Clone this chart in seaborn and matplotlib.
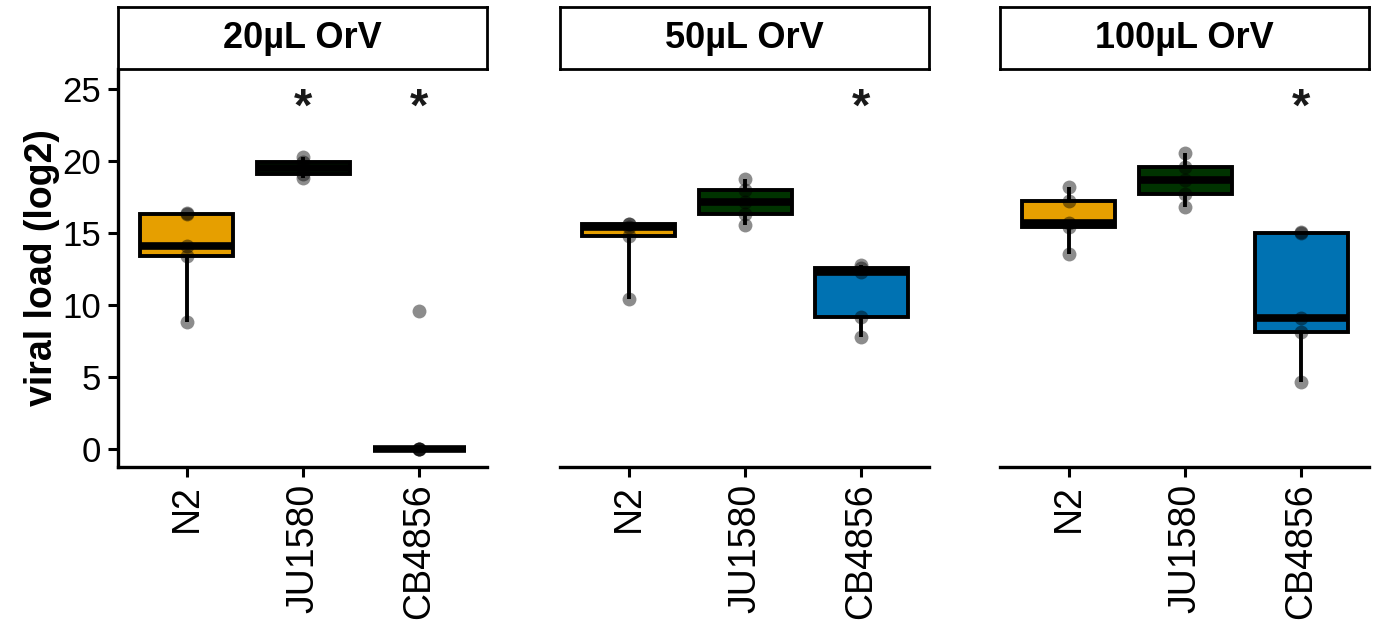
import numpy as np
import pandas as pd
import matplotlib
matplotlib.use("Agg")
import matplotlib.pyplot as plt
import seaborn as sns

# valeurs (log2)
strains = ["N2", "JU1580", "CB4856"]
doses = ["20µL OrV", "50µL OrV", "100µL OrV"]

n2_20 = [8.85, 13.43, 14.12, 16.32, 16.37]
ju_20 = [18.8, 19.07, 19.5, 19.94, 20.25]
cb_20 = [0.0, 0.0, 0.0, 0.0, 9.61]

n2_50 = [10.4, 14.8, 15.4, 15.6, 15.62]
ju_50 = [15.55, 16.3, 17.13, 17.98, 18.72]
cb_50 = [7.81, 9.15, 12.3, 12.55, 12.78]

n2_100 = [13.52, 15.44, 15.67, 17.24, 18.2]
ju_100 = [16.82, 17.7, 18.67, 19.6, 20.53]
cb_100 = [4.64, 8.1, 9.08, 15.0, 15.05]

# étoiles de significativité (dose -> souches)
stars = {"20µL OrV": ["JU1580", "CB4856"],
         "50µL OrV": ["CB4856"],
         "100µL OrV": ["CB4856"]}
star_y = 23.6

colors = {"N2": "#E69F00", "JU1580": "#003300", "CB4856": "#0072B2"}

values = {
    "20µL OrV": [n2_20, ju_20, cb_20],
    "50µL OrV": [n2_50, ju_50, cb_50],
    "100µL OrV": [n2_100, ju_100, cb_100],
}

rows = []
for dose in doses:
    for strain, vals in zip(strains, values[dose]):
        for v in vals:
            rows.append({"dose": dose, "strain": strain, "load": v})
df = pd.DataFrame(rows)

sns.set_style("white")
plt.rcParams["font.family"] = ["Liberation Sans", "DejaVu Sans"]
plt.rcParams["text.color"] = "black"
plt.rcParams["axes.labelcolor"] = "black"
plt.rcParams["xtick.color"] = "black"
plt.rcParams["ytick.color"] = "black"

fig = plt.figure(figsize=(13.82, 6.27), dpi=100)

lefts = [118 / 1382, 560 / 1382, 1000 / 1382]
w = 369 / 1382
bottom = 1 - 467 / 627
h = (467 - 69) / 627
strip_h = 62 / 627

for i, dose in enumerate(doses):
    ax = fig.add_axes([lefts[i], bottom, w, h])
    sub = df[df["dose"] == dose]
    sns.boxplot(data=sub, x="strain", y="load", hue="strain", order=strains,
                hue_order=strains, palette=colors, legend=False, ax=ax,
                width=0.8, whis=100, showfliers=False, showcaps=False,
                linecolor="black", linewidth=2.8,
                medianprops={"linewidth": 5.5, "color": "black"},
                boxprops={"edgecolor": "black"}, saturation=1)
    sns.stripplot(data=sub, x="strain", y="load", order=strains, jitter=False,
                  color="black", alpha=0.45, size=10, linewidth=0, ax=ax)
    for s in stars[dose]:
        ax.text(strains.index(s), star_y, "*", ha="center", va="center",
                fontsize=34, fontweight="bold", color="#1a1a1a")
    ax.set_xlim(-0.59, 2.58)
    ax.set_ylim(-1.23, 26.37)
    ax.set_xlabel("")
    ax.set_ylabel("")
    ax.tick_params(axis="x", labelsize=27, rotation=90, length=7, width=2.2,
                   bottom=True, pad=5)
    for spine in ["top", "right"]:
        ax.spines[spine].set_visible(False)
    ax.spines["bottom"].set_linewidth(2.4)
    ax.spines["bottom"].set_color("black")
    if i == 0:
        ax.set_yticks([0, 5, 10, 15, 20, 25])
        ax.tick_params(axis="y", labelsize=25, length=7, width=2.2,
                       left=True, pad=5)
        ax.spines["left"].set_linewidth(2.4)
        ax.spines["left"].set_color("black")
        ax.set_ylabel("viral load (log2)", fontsize=27, fontweight="bold",
                      labelpad=2)
    else:
        ax.spines["left"].set_visible(False)
        ax.set_yticks([])

    # bandeau du facet
    sax = fig.add_axes([lefts[i], bottom + h, w, strip_h])
    sax.set_xticks([])
    sax.set_yticks([])
    for sp in sax.spines.values():
        sp.set_visible(True)
        sp.set_linewidth(2)
        sp.set_color("black")
    sax.text(0.5, 0.5, dose, ha="center", va="center", fontsize=26,
             fontweight="bold", transform=sax.transAxes)

fig.savefig("out.png", dpi=100)
